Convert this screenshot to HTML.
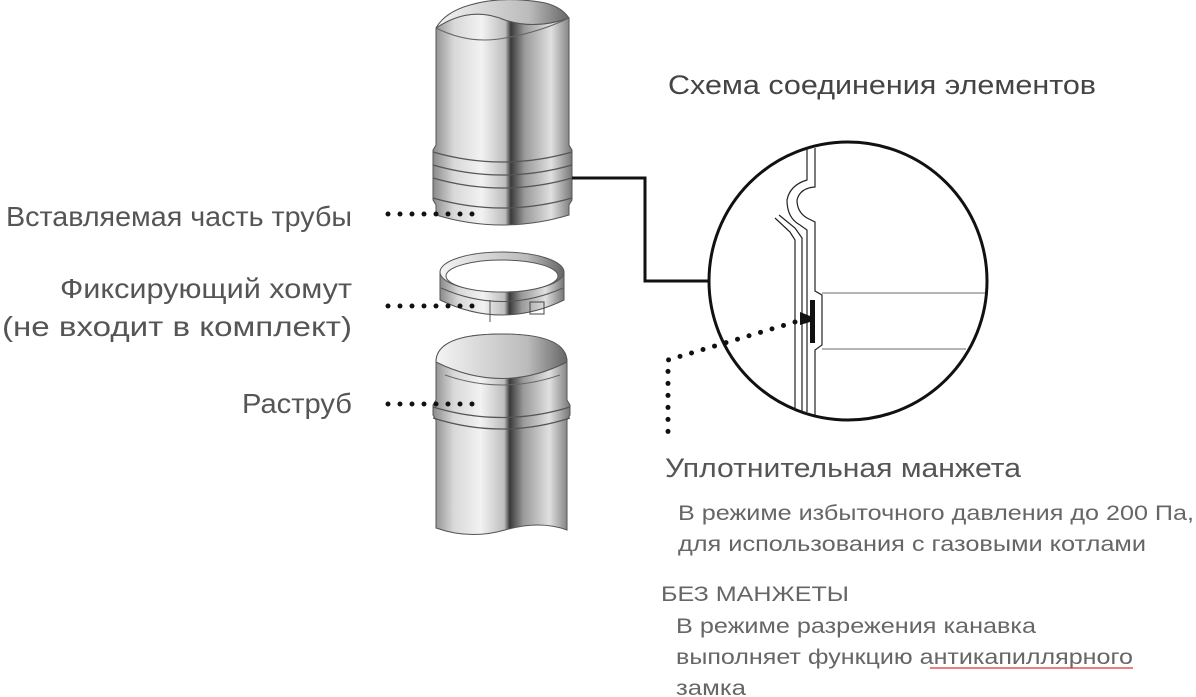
<!DOCTYPE html>
<html><head><meta charset="utf-8"><style>
html,body{margin:0;padding:0;background:#fff;}
svg{display:block;font-family:"Liberation Sans",sans-serif;}
</style></head><body>
<svg width="1196" height="697" viewBox="0 0 1196 697" xmlns="http://www.w3.org/2000/svg">
<defs>
<linearGradient id="m" x1="0" x2="1" y1="0" y2="0">
<stop offset="0" stop-color="#8a8a8a"/><stop offset="0.15" stop-color="#d8d8d8"/><stop offset="0.35" stop-color="#f2f2f2"/><stop offset="0.52" stop-color="#bdbdbd"/><stop offset="0.56" stop-color="#3a3a3a"/><stop offset="0.66" stop-color="#9a9a9a"/><stop offset="0.85" stop-color="#e0e0e0"/><stop offset="1" stop-color="#777"/>
</linearGradient>
<linearGradient id="in" x1="0" x2="1"><stop offset="0" stop-color="#f4f4f4"/><stop offset="0.7" stop-color="#bbb"/><stop offset="1" stop-color="#666"/></linearGradient>
</defs>
<!-- top pipe -->
<path d="M436 28 Q470 5 505 20 Q535 30 569 18 L569 145 L572 150 L572 200 L569 205 L569 215 Q502 235 436 215 L436 205 L433 200 L433 150 L436 145 Z" fill="url(#m)" stroke="#555" stroke-width="1"/>
<path d="M436 28 Q470 5 505 20 Q535 30 569 18 Q560 5 540 2 Q500 -4 470 5 Q445 12 436 28Z" fill="url(#in)" stroke="#555"/>
<path d="M436 28 Q470 45 505 38 Q540 32 569 18" fill="none" stroke="#666"/>
<g fill="none" stroke="#555" stroke-width="1.2">
<path d="M433 152 Q502 172 572 152"/><path d="M433 165 Q502 185 572 165"/><path d="M433 178 Q502 198 572 178"/><path d="M433 198 Q502 218 572 198"/></g>
<!-- ring -->
<path d="M440 272 L440 300 Q502 330 564 300 L564 272 Z" fill="url(#m)" stroke="#555"/>
<ellipse cx="502" cy="272" rx="62" ry="20" fill="url(#in)" stroke="#555"/>
<ellipse cx="502" cy="276" rx="56" ry="16" fill="#fff" stroke="#555"/>
<path d="M441 288 Q502 315 563 288" fill="none" stroke="#555"/>
<line x1="490" y1="300" x2="490" y2="322" stroke="#555"/>
<rect x="530" y="302" width="14" height="12" fill="none" stroke="#444"/>
<!-- bottom pipe -->
<path d="M436 362 Q436 334 502 334 Q567 334 567 362 L567 400 L570 405 L570 415 L567 420 L567 530 Q540 520 505 530 Q470 540 436 528 L436 420 L433 415 L433 405 L436 400 Z" fill="url(#m)" stroke="#555"/>
<path d="M436 362 Q436 334 502 334 Q567 334 567 362 Q502 395 436 362Z" fill="url(#in)" stroke="#555"/>
<path d="M445 375 Q502 395 560 375" fill="none" stroke="#666"/>
<path d="M433 407 Q502 428 570 407" fill="none" stroke="#555" stroke-width="1.2"/>
<path d="M433 418 Q502 440 570 418" fill="none" stroke="#555" stroke-width="1.2"/>
<!-- connector -->
<path d="M572 178 L645 178 L645 281 L709 281" fill="none" stroke="#111" stroke-width="3"/>
<!-- circle -->
<ellipse cx="848" cy="281" rx="139" ry="139" fill="#fff" stroke="#111" stroke-width="3"/>
<g fill="none" stroke="#222" stroke-width="1.2">
<path d="M807 149 L807 180 Q790 185 787 200 Q787 218 800 225 L807 230 L807 412"/>
<path d="M815 148 L815 187 Q800 188 797 200 Q797 212 807 218 L815 222 L815 291 L822 295 L822 345 L815 350 L815 415"/>
<path d="M775 218 L790 232 L795 240 L795 410"/>
<path d="M779 215 L795 228 L802 238 L802 412"/>
<line x1="822" y1="293" x2="985" y2="293" stroke="#888"/>
<line x1="822" y1="349" x2="966" y2="349" stroke="#888"/>
</g>
<rect x="810" y="300" width="5" height="43" fill="#111"/>
<path d="M800 312 L800 325 L810 322 L810 316Z" fill="#111"/>
<!-- dots -->
<g stroke="#111" stroke-width="5" stroke-linecap="round" stroke-dasharray="0 12" fill="none">
<line x1="388" y1="214" x2="484" y2="214"/><line x1="388" y1="306" x2="484" y2="306"/><line x1="388" y1="404" x2="484" y2="404"/>
<path d="M795 322 L668 360 L668 432"/>
</g>
<!-- text -->
<g fill="#555" font-size="28" text-anchor="end">
<text x="352" y="226" textLength="346" lengthAdjust="spacingAndGlyphs">Вставляемая часть трубы</text>
<text x="352" y="298" textLength="292" lengthAdjust="spacingAndGlyphs">Фиксирующий хомут</text>
<text x="352" y="336" textLength="350" lengthAdjust="spacingAndGlyphs">(не входит в комплект)</text>
<text x="352" y="413" textLength="110" lengthAdjust="spacingAndGlyphs">Раструб</text>
</g>
<text x="668" y="94" font-size="27" fill="#444" textLength="428" lengthAdjust="spacingAndGlyphs">Схема соединения элементов</text>
<text x="665" y="477" font-size="27" fill="#555" textLength="356" lengthAdjust="spacingAndGlyphs">Уплотнительная манжета</text>
<g fill="#666" font-size="21">
<text x="678" y="520" textLength="516" lengthAdjust="spacingAndGlyphs">В режиме избыточного давления до 200 Па,</text>
<text x="678" y="551" textLength="468" lengthAdjust="spacingAndGlyphs">для использования с газовыми котлами</text>
<text x="661" y="601" textLength="188" lengthAdjust="spacingAndGlyphs">БЕЗ МАНЖЕТЫ</text>
<text x="676" y="633" textLength="360" lengthAdjust="spacingAndGlyphs">В режиме разрежения канавка</text>
<text x="676" y="664" textLength="457" lengthAdjust="spacingAndGlyphs">выполняет функцию антикапиллярного</text>
<text x="676" y="695" textLength="70" lengthAdjust="spacingAndGlyphs">замка</text>
</g>
<line x1="930" y1="668" x2="1133" y2="668" stroke="#d33" stroke-width="1.2"/>
</svg>
</body></html>
